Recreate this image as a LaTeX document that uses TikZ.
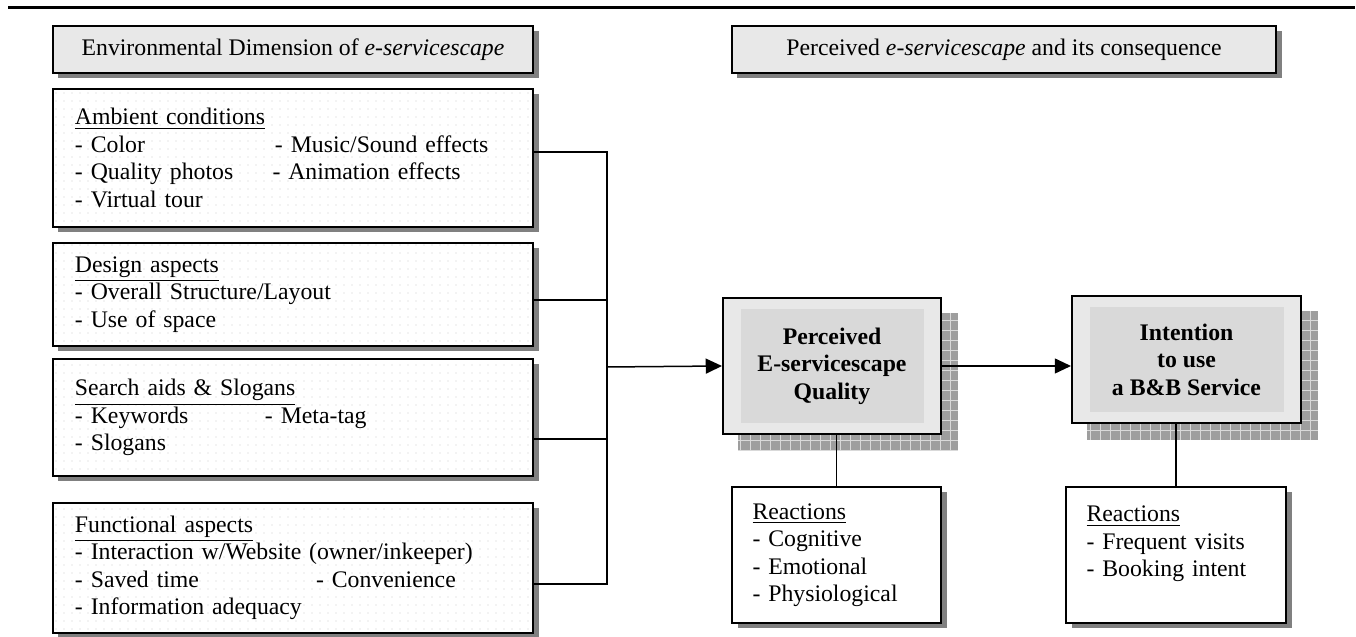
\documentclass[tikz,border=0pt]{standalone}
\usepackage{fontspec}
\setmainfont{Liberation Serif}
\usetikzlibrary{positioning, shadows, patterns.meta, arrows.meta, backgrounds}
\newcommand{\figfont}{\fontsize{9.5pt}{11pt}\selectfont}
\tikzstyle{headbox} = [rectangle, minimum height=18.8pt, text centered, draw=black, line width=0.8pt, fill=black!9, drop shadow={opacity=1, fill=black!50, shadow xshift=2.2pt, shadow yshift=-2.2pt}, font=\figfont]
\tikzstyle{dimbox} = [rectangle, minimum width=192pt, text width=174.4pt, inner xsep=8.8pt, align=left, draw=black, line width=0.8pt, fill=white, postaction={pattern={Dots[distance=3.2pt, radius=0.28pt]}, pattern color=black!20}, drop shadow={opacity=1, fill=black!50, shadow xshift=2.2pt, shadow yshift=-2.2pt}, font=\figfont]
\tikzstyle{qualbox} = [rectangle, align=center, draw=black, line width=0.8pt, fill=black!9, font=\figfont\bfseries, path picture={\fill[black!15] ([shift={(7pt,4.5pt)}]path picture bounding box.south west) rectangle ([shift={(-7pt,-4.5pt)}]path picture bounding box.north east);}]
\tikzstyle{reactbox} = [rectangle, minimum height=54.4pt, align=left, inner xsep=8.2pt, draw=black, line width=0.8pt, fill=white, drop shadow={opacity=1, fill=black!50, shadow xshift=2.2pt, shadow yshift=-2.2pt}, font=\figfont]
\tikzstyle{line} = [line width=0.6pt]
\tikzstyle{arrow} = [line width=0.6pt, -{Triangle[length=6.5pt, width=6pt]}]

\begin{document}
\begin{tikzpicture}[x=0.4pt, y=-0.4pt]
\useasboundingbox (0,0) rectangle (1356,637);
\draw [line width=1.1pt] (8,7.5) -- (1355,7.5);

% Nodes
\node (envhead) [headbox, minimum width=192pt] at (293,49.5) {Environmental Dimension of \emph{e-servicescape}};
\node (ambient) [dimbox, minimum height=55.2pt, below=5.6pt of envhead] {\underline{Ambient conditions}\\ \makebox[80pt][l]{- Color}- Music/Sound effects\\ \makebox[79pt][l]{- Quality photos}- Animation effects\\ - Virtual tour};
\node (design) [dimbox, minimum height=41.2pt, below=5.6pt of ambient] {\underline{Design aspects}\\ - Overall Structure/Layout\\ - Use of space};
\node (search) [dimbox, minimum height=46.8pt, below=4.4pt of design] {\underline{Search aids \& Slogans}\\ \makebox[76pt][l]{- Keywords}- Meta-tag\\ - Slogans};
\node (functional) [dimbox, minimum height=52pt, below=10pt of search] {\underline{Functional aspects}\\ - Interaction w/Website (owner/inkeeper)\\ \makebox[96.4pt][l]{- Saved time}- Convenience\\ - Information adequacy};

\node (pershead) [headbox, minimum width=217.6pt] at (1004,49.5) {Perceived \emph{e-servicescape} and its consequence};
\node (pq) [qualbox, minimum width=87.2pt, minimum height=54.4pt] at (832,366) {Perceived\\ E-servicescape\\ Quality};
\node (intent) [qualbox, minimum width=91.6pt, minimum height=50.8pt] at (1186.5,359.5) {Intention\\ to use\\ a B\&B Service};
\node (react1) [reactbox, minimum width=83.6pt, text width=67.2pt] at (836.5,555) {\underline{Reactions}\\ - Cognitive\\ - Emotional\\ - Physiological};
\node (react2) [reactbox, minimum width=88pt, text width=71.6pt] at (1176,555) {\underline{Reactions}\\ - Frequent visits\\ - Booking intent\\ \mbox{}};

% Shadows
\begin{scope}[on background layer]
\foreach \nd in {pq, intent} {
  \fill [black!38] ([shift={(6.4pt,-6.4pt)}]\nd.south west) rectangle ([shift={(6.4pt,-6.4pt)}]\nd.north east);
  \draw [black!15, line width=0.3pt, step=4pt] ([shift={(6.4pt,-6.4pt)}]\nd.south west) grid ([shift={(6.4pt,-6.4pt)}]\nd.north east);
}
\end{scope}

% Arrows
\coordinate (junction) at (607,367);
\draw [line] ([yshift=2.4pt]ambient.east) -| (junction);
\draw [line] ([yshift=-2.2pt]design.east) -| (junction);
\draw [line] ([yshift=-8.6pt]search.east) -| (junction);
\draw [line] ([yshift=-6.4pt]functional.east) -| (junction);
\draw [arrow] (junction) -- (pq.west);
\draw [arrow] (pq.east) -- (pq.east -| intent.west);
\draw [line] (react1.north) -- (react1.north |- pq.south);
\draw [line] (react2.north) -- (react2.north |- intent.south);

\end{tikzpicture}
\end{document}
